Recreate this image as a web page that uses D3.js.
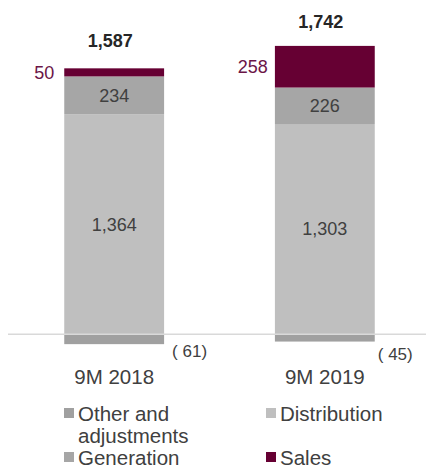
<!DOCTYPE html>
<meta charset="utf-8">
<style>
  body { margin: 0; background: #fff; }
  text { font-family: "Liberation Sans", Arial, sans-serif; }
</style>
<script src="https://d3js.org/d3.v7.min.js"></script>
<body>
<script>

const width = 426;
const height = 469;

const categories = ["9M 2018", "9M 2019"];
const distribution = [1364, 1303];
const generation = [234, 226];
const sales = [50, 258];
const other = [-61, -45];
const totals = [1587, 1742];
const otherLabels = ["( 61)", "( 45)"];

const colors = {
  other: "#a0a0a0",
  distribution: "#bfbfbf",
  generation: "#a6a6a6",
  sales: "#660033"
};

const svg = d3.select("body")
              .append("svg")
              .attr("width", width)
              .attr("height", height)
              .style("display", "block");

const xScale = d3.scaleBand()
                 .domain(categories)
                 .range([0, 439])
                 .paddingInner(0.526)
                 .paddingOuter(0.305);

const yScale = d3.scaleLinear()
                 .domain([0, 1787])
                 .range([334.3, 45.9]);

// stacked segments, bottom-up
const rows = categories.map((c, i) => {
  const d1 = distribution[i];
  const g1 = d1 + generation[i];
  const s1 = g1 + sales[i];
  return {
    cat: c, i: i, top: s1,
    segs: [
      { key: "other", y0: other[i], y1: 0 },
      { key: "distribution", y0: 0, y1: d1 },
      { key: "generation", y0: d1, y1: g1 },
      { key: "sales", y0: g1, y1: s1 }
    ]
  };
});

const bars = svg.append("g").attr("class", "bars")
  .selectAll("g")
  .data(rows)
  .enter().append("g");

bars.selectAll("rect")
  .data(d => d.segs.map(s => Object.assign({ cat: d.cat }, s)))
  .enter().append("rect")
  .attr("x", d => xScale(d.cat))
  .attr("width", xScale.bandwidth())
  .attr("y", d => yScale(Math.max(d.y0, d.y1)))
  .attr("height", d => Math.abs(yScale(d.y0) - yScale(d.y1)))
  .attr("fill", d => colors[d.key]);

// baseline
svg.append("line")
   .attr("x1", 8).attr("x2", 426)
   .attr("y1", yScale(0)).attr("y2", yScale(0))
   .attr("stroke", "#d9d9d9")
   .attr("stroke-width", 1.5);

// inner labels
const inner = [];
rows.forEach(r => {
  inner.push({ cat: r.cat, v: distribution[r.i], y: distribution[r.i] / 2 });
  inner.push({ cat: r.cat, v: generation[r.i], y: distribution[r.i] + generation[r.i] / 2 });
});
svg.append("g").selectAll("text")
   .data(inner)
   .enter().append("text")
   .attr("x", d => xScale(d.cat) + xScale.bandwidth() / 2)
   .attr("y", d => yScale(d.y))
   .attr("dy", "0.35em")
   .attr("text-anchor", "middle")
   .attr("font-size", 18)
   .attr("fill", "#404040")
   .text(d => d3.format(",")(d.v));

// sales labels, left of bar
svg.append("g").selectAll("text")
   .data(rows)
   .enter().append("text")
   .attr("x", d => xScale(d.cat) - (d.i === 0 ? 10 : 7))
   .attr("y", d => yScale(distribution[d.i] + generation[d.i] + sales[d.i] / 2))
   .attr("dy", "0.35em")
   .attr("text-anchor", "end")
   .attr("font-size", 18)
   .attr("fill", "#6b1547")
   .text(d => sales[d.i]);

// totals
svg.append("g").selectAll("text")
   .data(rows)
   .enter().append("text")
   .attr("x", d => xScale(d.cat) + xScale.bandwidth() / 2 - 4)
   .attr("y", d => yScale(d.top) - (d.i === 0 ? 21 : 18))
   .attr("text-anchor", "middle")
   .attr("font-size", 18)
   .attr("font-weight", "bold")
   .attr("fill", "#262626")
   .text(d => d3.format(",")(totals[d.i]));

// other labels
svg.append("g").selectAll("text")
   .data(rows)
   .enter().append("text")
   .attr("x", d => xScale(d.cat) + xScale.bandwidth() + (d.i === 0 ? 8 : 3))
   .attr("y", d => d.i === 0 ? 357 : 360)
   .attr("font-size", 17)
   .attr("fill", "#404040")
   .text(d => otherLabels[d.i]);

// category labels
svg.append("g").selectAll("text")
   .data(categories)
   .enter().append("text")
   .attr("x", d => xScale(d) + xScale.bandwidth() / 2)
   .attr("y", 384)
   .attr("text-anchor", "middle")
   .attr("font-size", 20.5)
   .attr("fill", "#404040")
   .text(d => d);

// legend
const legend = [
  { key: "other", lines: ["Other and", "adjustments"], x: 64, y: 421 },
  { key: "distribution", lines: ["Distribution"], x: 266, y: 421 },
  { key: "generation", lines: ["Generation"], x: 64, y: 465 },
  { key: "sales", lines: ["Sales"], x: 266, y: 465 }
];
const lg = svg.append("g").selectAll("g")
   .data(legend)
   .enter().append("g")
   .attr("transform", d => `translate(${d.x},${d.y})`);
lg.append("rect")
  .attr("x", 0).attr("y", -13)
  .attr("width", 10).attr("height", 10)
  .attr("fill", d => colors[d.key]);
lg.append("text")
  .attr("font-size", 20.5)
  .attr("fill", "#404040")
  .selectAll("tspan")
  .data(d => d.lines)
  .enter().append("tspan")
  .attr("x", 14)
  .attr("y", (d, i) => i * 22)
  .text(d => d);
</script>
</body>
